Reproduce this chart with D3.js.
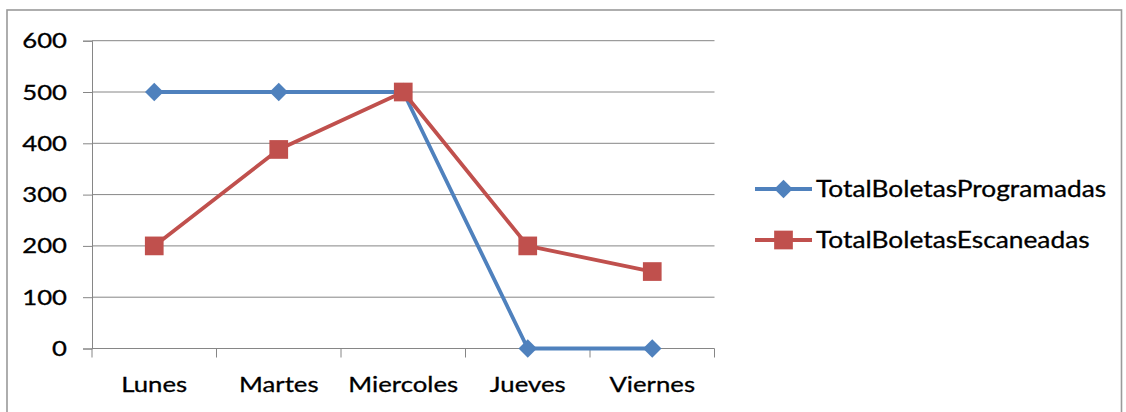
<!DOCTYPE html>
<html>
<head>
<meta charset="utf-8">
<script src="https://cdn.jsdelivr.net/npm/d3@7"></script>
<style>
    html, body { margin: 0; padding: 0; background: #fff; }
    text { font-family: Lato, "Open Sans", sans-serif; fill: #000; stroke: #000; stroke-width: 0.3px; }
</style>
</head>
<body>
<div id="chart"></div>
<script>
'use strict';

// data
const days = ['Lunes', 'Martes', 'Miercoles', 'Jueves', 'Viernes'];
const programadas = [500, 500, 500, 0, 0];
const escaneadas = [200, 388, 500, 200, 150];
const yTicks = [0, 100, 200, 300, 400, 500, 600];
const seriesNames = ['TotalBoletasProgramadas', 'TotalBoletasEscaneadas'];
const seriesColors = ['#4F81BD', '#C0504D'];

const W = 1126, H = 412;
const plot = { left: 92, right: 714.5, top: 40.7, bottom: 348.5 };
const gridColor = '#868686';
// the original text is a wide Calibri-like face, stretch Lato to match
const stretch = 1.17;

const svg = d3.select('#chart')
    .append('svg')
    .attr('width', W)
    .attr('height', H);

// outer chart border (bottom runs off the picture)
svg.append('rect')
    .attr('x', 7)
    .attr('y', 10)
    .attr('width', 1114.5)
    .attr('height', 420)
    .attr('fill', 'none')
    .attr('stroke', '#9a9a9a')
    .attr('stroke-width', 1.6);

const x = d3.scaleBand()
    .domain(days)
    .range([plot.left, plot.right]);

const y = d3.scaleLinear()
    .domain([0, 600])
    .range([plot.bottom, plot.top]);

const cx = d => x(d) + x.bandwidth() / 2;

// gridlines + y axis
const yAxis = d3.axisLeft(y)
    .tickValues(yTicks)
    .tickSize(9)
    .tickFormat(d3.format('d'));

const gy = svg.append('g')
    .attr('transform', `translate(${plot.left},0)`)
    .call(yAxis);
gy.select('.domain').attr('stroke', gridColor);
gy.selectAll('.tick line').attr('stroke', gridColor);
gy.selectAll('.tick text')
    .attr('x', -25 / stretch)
    .attr('transform', `scale(${stretch},1)`)
    .attr('font-size', 22)
    .attr('fill', '#000')
    .style('font-family', 'Lato, sans-serif');

svg.append('g')
    .selectAll('line')
    .data(yTicks.filter(t => t > 0))
    .enter()
    .append('line')
    .attr('x1', plot.left)
    .attr('x2', plot.right)
    .attr('y1', d => y(d))
    .attr('y2', d => y(d))
    .attr('stroke', gridColor)
    .attr('stroke-width', 1);

// x axis: ticks sit on category boundaries
const gx = svg.append('g')
    .attr('transform', `translate(0,${plot.bottom})`);
gx.append('line')
    .attr('x1', plot.left)
    .attr('x2', plot.right)
    .attr('stroke', gridColor);
gx.selectAll('line.tick')
    .data(days.concat(['end']))
    .enter()
    .append('line')
    .attr('class', 'tick')
    .attr('x1', (d, i) => i < days.length ? x(d) : plot.right)
    .attr('x2', (d, i) => i < days.length ? x(d) : plot.right)
    .attr('y1', 0)
    .attr('y2', 9)
    .attr('stroke', gridColor);
gx.selectAll('text')
    .data(days)
    .enter()
    .append('text')
    .attr('transform', d => `translate(${cx(d)},43.5) scale(${stretch},1)`)
    .attr('text-anchor', 'middle')
    .attr('font-size', 22)
    .text(d => d);

// series
const line = d3.line()
    .x((d, i) => cx(days[i]))
    .y(d => y(d));

const diamond = d3.symbol().type(d3.symbolSquare).size(170);
const square = d3.symbol().type(d3.symbolSquare).size(350);

function drawSeries(values, color, marker, rotate) {
    const g = svg.append('g');
    g.append('path')
        .datum(values)
        .attr('d', line)
        .attr('fill', 'none')
        .attr('stroke', color)
        .attr('stroke-width', 3.8)
        .attr('stroke-linejoin', 'round');
    g.selectAll('path.mark')
        .data(values)
        .enter()
        .append('path')
        .attr('class', 'mark')
        .attr('d', marker)
        .attr('transform', (d, i) => `translate(${cx(days[i])},${y(d)}) rotate(${rotate})`)
        .attr('fill', color);
}

drawSeries(programadas, seriesColors[0], diamond, 45);
drawSeries(escaneadas, seriesColors[1], square, 0);

// legend
const legend = svg.append('g');
const legendRows = [189, 240];
seriesNames.forEach((name, i) => {
    const row = legend.append('g')
        .attr('transform', `translate(0,${legendRows[i]})`);
    row.append('line')
        .attr('x1', 755)
        .attr('x2', 812)
        .attr('stroke', seriesColors[i])
        .attr('stroke-width', 3.8);
    row.append('path')
        .attr('d', i === 0 ? diamond : square)
        .attr('transform', `translate(783.5,0) rotate(${i === 0 ? 45 : 0})`)
        .attr('fill', seriesColors[i]);
    row.append('text')
        .attr('transform', `translate(816,0) scale(${stretch},1)`)
        .attr('dy', '0.35em')
        .attr('font-size', 22.5)
        .text(name);
});
</script>
</body>
</html>
